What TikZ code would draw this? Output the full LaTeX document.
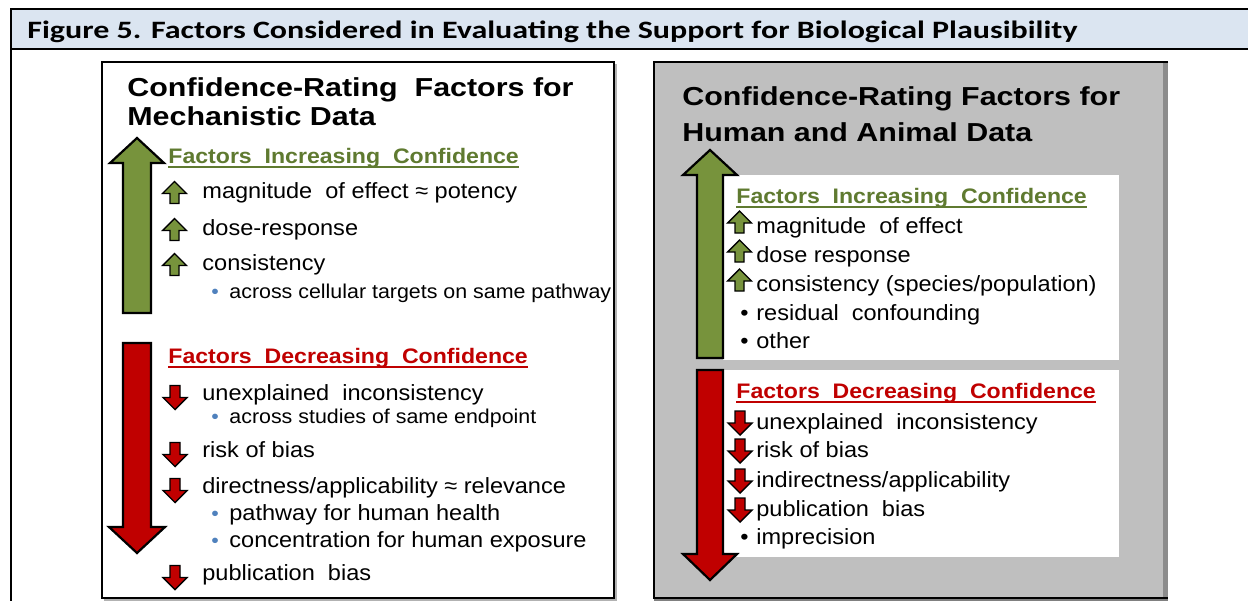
\documentclass[tikz,border=0pt]{standalone}
\usepackage{fontspec}
\setmainfont{Liberation Sans}
\newfontfamily\capfont{Carlito}[FakeStretch=1.28]
\newfontfamily\bodyfont{Liberation Sans}[FakeStretch=1.07]
\newfontfamily\headfont{Liberation Sans}[FakeStretch=1.10]
\newfontfamily\titlefont{Liberation Sans}[FakeStretch=1.17]
\definecolor{headblue}{HTML}{DBE5F1}
\definecolor{leafgreen}{HTML}{77933C}
\definecolor{darkleaf}{HTML}{5F7A30}
\definecolor{alertred}{HTML}{C00000}
\definecolor{panelgray}{HTML}{BFBFBF}
\definecolor{shadegray}{HTML}{8C8C8C}
\definecolor{dotblue}{HTML}{4F81BD}
\begin{document}
\begin{tikzpicture}[x=0.5pt,y=-0.5pt]

    \tikzset{
      txt/.style={anchor=base west,inner sep=0pt,font=\bodyfont\fontsize{11}{13}\selectfont},
      subtxt/.style={txt,font=\bodyfont\fontsize{10}{12}\selectfont},
      paneltitle/.style={anchor=base west,inner sep=0pt,
        font=\titlefont\fontsize{13}{15}\bfseries\selectfont},
      greenhead/.style={anchor=base west,inner sep=0pt,text=darkleaf,
        font=\headfont\fontsize{10.5}{12}\bfseries\selectfont},
      redhead/.style={greenhead,text=alertred},
      uptick/.pic={
        \draw[fill=leafgreen,line width=0.7pt] (-4.5,11)--(-4.5,1)--(-12,1)--(0,-11)--(12,1)--(4.5,1)--(4.5,11)--cycle;
      },
      downtick/.pic={
        \draw[fill=alertred,line width=0.7pt] (-5,-12)--(5,-12)--(5,0)--(12,0)--(0,12)--(-12,0)--(-5,0)--cycle;
      },
    }
    \useasboundingbox (0,0) rectangle (1248,601);

    % outer frame and caption
    \fill[headblue] (11,9) rectangle (1248,49);
    \draw[line width=1.25pt] (1248,9)--(11,9)--(11,601);
    \draw[line width=1.25pt] (11,49)--(1248,49);
    \node[anchor=base west,inner sep=0pt,font=\capfont\fontsize{12.5}{14}\bfseries\selectfont]
      (caption) at (27,38) {Figure 5. Factors Considered in Evaluating the Support for Biological Plausibility};

    % left panel: mechanistic data
    \draw[gray!60,line width=1pt] (105,65) rectangle (616,600);
    \draw[fill=white,line width=1pt] (102,62) rectangle (614,598);
    \node[paneltitle] (mechtitle) at (127,96) {Confidence-Rating\ \ Factors for};
    \node[paneltitle] (mechtitleb) at (127,125) {Mechanistic Data};
    \draw[fill=leafgreen,line width=1.1pt] (123,313)--(123,163)--(110,163)--(137,138)--(164,163)--(151,163)--(151,313)--cycle;
    \draw[fill=alertred,line width=1.1pt] (123,343)--(151,343)--(151,527)--(165,527)--(137,553)--(109,527)--(123,527)--cycle;

    \node[greenhead] (mechinc) at (168,163) {Factors\ \ Increasing\ \ Confidence};
    \draw[darkleaf,line width=0.9pt] ([yshift=-2pt]mechinc.base west)--([yshift=-2pt]mechinc.base east);
    \pic at (174.5,192.5) {uptick};
    \node[txt] (mechmag) at (202,198) {magnitude\ \ of effect ≈ potency};
    \pic at (174.5,229.5) {uptick};
    \node[txt] (mechdose) at (202,235) {dose-response};
    \pic at (174.5,264.5) {uptick};
    \node[txt] (mechcons) at (202,270) {consistency};
    \node[subtxt,text=dotblue] (mechdot1) at (211,298) {•};
    \node[subtxt] (mechcell) at (229,298) {across cellular targets on same pathway};

    \node[redhead] (mechdec) at (168,363) {Factors\ \ Decreasing\ \ Confidence};
    \draw[alertred,line width=0.9pt] ([yshift=-2pt]mechdec.base west)--([yshift=-2pt]mechdec.base east);
    \pic at (175,397.5) {downtick};
    \node[txt] (mechunex) at (202,400) {unexplained\ \ inconsistency};
    \node[subtxt,text=dotblue] (mechdot2) at (211,423) {•};
    \node[subtxt] (mechstud) at (229,423) {across studies of same endpoint};
    \pic at (175,454.5) {downtick};
    \node[txt] (mechrisk) at (202,457) {risk of bias};
    \pic at (175,490.5) {downtick};
    \node[txt] (mechdir) at (202,493) {directness/applicability ≈ relevance};
    \node[subtxt,text=dotblue] (mechdot3) at (211,520) {•};
    \node[txt] (mechpath) at (229,520) {pathway for human health};
    \node[subtxt,text=dotblue] (mechdot4) at (211,547) {•};
    \node[txt] (mechconc) at (229,547) {concentration for human exposure};
    \pic at (175,577.5) {downtick};
    \node[txt] (mechpub) at (202,580) {publication\ \ bias};

    % right panel: human and animal data
    \fill[panelgray] (654,62) rectangle (1168,598);
    \fill[shadegray] (1163,62) rectangle (1168,598);
    \draw[line width=1pt] (1168,62)--(654,62)--(654,598)--(1168,598);
    \draw[gray,line width=0.6pt] (654,600)--(1168,600);
    \node[paneltitle] (humtitle) at (682,105) {Confidence-Rating Factors for};
    \node[paneltitle] (humtitleb) at (682,141) {Human and Animal Data};
    \fill[white] (723,175) rectangle (1119,360);
    \fill[white] (723,370) rectangle (1119,557);
    \draw[fill=leafgreen,line width=1.1pt] (697,358)--(697,175)--(683,175)--(710,150)--(737,175)--(723,175)--(723,358)--cycle;
    \draw[fill=alertred,line width=1.1pt] (697,370)--(723,370)--(723,554)--(737,554)--(710,580)--(683,554)--(697,554)--cycle;

    \node[greenhead] (huminc) at (736,203) {Factors\ \ Increasing\ \ Confidence};
    \draw[darkleaf,line width=0.9pt] ([yshift=-2pt]huminc.base west)--([yshift=-2pt]huminc.base east);
    \pic at (739.5,222) {uptick};
    \node[txt] (hummag) at (756,233) {magnitude\ \ of effect};
    \pic at (739.5,251) {uptick};
    \node[txt] (humdose) at (756,262) {dose response};
    \pic at (739.5,280) {uptick};
    \node[txt] (humcons) at (756,291) {consistency (species/population)};
    \node[txt] (humdot1) at (740,320) {•};
    \node[txt] (humres) at (756,320) {residual\ \ confounding};
    \node[txt] (humdot2) at (740,348) {•};
    \node[txt] (humother) at (756,348) {other};

    \node[redhead] (humdec) at (736,398) {Factors\ \ Decreasing\ \ Confidence};
    \draw[alertred,line width=0.9pt] ([yshift=-2pt]humdec.base west)--([yshift=-2pt]humdec.base east);
    \pic at (740,423) {downtick};
    \node[txt] (humunex) at (756,429) {unexplained\ \ inconsistency};
    \pic at (740,451) {downtick};
    \node[txt] (humrisk) at (756,457) {risk of bias};
    \pic at (740,481) {downtick};
    \node[txt] (humind) at (756,487) {indirectness/applicability};
    \pic at (740,510) {downtick};
    \node[txt] (humpub) at (756,516) {publication\ \ bias};
    \node[txt] (humdot3) at (740,544) {•};
    \node[txt] (humimp) at (756,544) {imprecision};

\end{tikzpicture}
\end{document}
